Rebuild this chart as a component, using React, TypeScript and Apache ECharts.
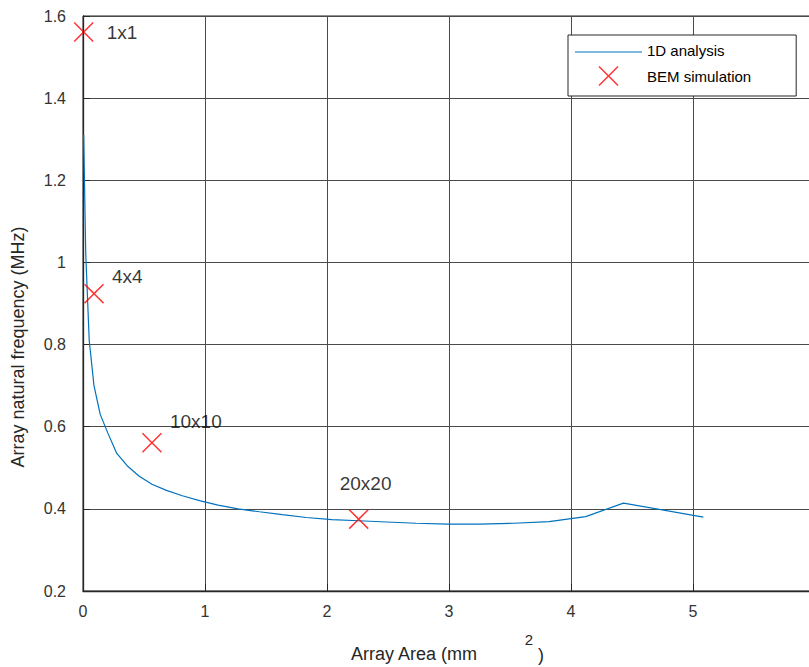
import React, { useEffect, useRef } from 'react';
import * as echarts from 'echarts';

// 1D analysis curve (area mm^2 -> frequency MHz)
const areaValues = [0.0056, 0.0226, 0.051, 0.090, 0.141, 0.203, 0.277, 0.362, 0.458, 0.565, 0.684, 0.814, 0.955, 1.107, 1.271, 1.446, 1.633, 1.831, 2.040, 2.26, 2.49, 2.73, 2.99, 3.25, 3.53, 3.82, 4.12, 4.43, 5.085];
const freqValues = [1.31, 1.02, 0.81, 0.70, 0.63, 0.585, 0.535, 0.505, 0.48, 0.46, 0.445, 0.432, 0.42, 0.409, 0.400, 0.393, 0.386, 0.379, 0.374, 0.371, 0.368, 0.365, 0.363, 0.363, 0.365, 0.369, 0.381, 0.414, 0.380];

// BEM simulation points
const bemArea = [0.0056, 0.0904, 0.565, 2.26];
const bemFreq = [1.561, 0.924, 0.561, 0.375];
const bemLabels = ['1x1', '4x4', '10x10', '20x20'];

const xTicks = [0, 1, 2, 3, 4, 5, 6];
const yTicks = [0.2, 0.4, 0.6, 0.8, 1, 1.2, 1.4, 1.6];

const labelOffsets = [[23, 0], [18, -17], [18, -21], [-19, -36]];

const FONT = '"Liberation Sans", Arial, Helvetica, sans-serif';
const crossPath = 'path://M0,5.3L5.3,0L50,44.7L94.7,0L100,5.3L55.3,50L100,94.7L94.7,100L50,55.3L5.3,100L0,94.7L44.7,50Z';
const lineIconPath = 'path://M0,0L0.01,0L0,0.01Z M67,20L66.99,20L67,19.99Z M0,11.4L67,11.4L67,12.6L0,12.6Z';

export default function App() {
  const ref = useRef<HTMLDivElement>(null);
  useEffect(() => {
    if (!ref.current) return;
    const chart = echarts.init(ref.current, undefined, { renderer: 'svg' });
    const option: any = {
      animation: false,
      backgroundColor: '#fff',
      grid: {
        left: 83, top: 16, width: 732, height: 575,
        outerBoundsMode: 'none', containLabel: false,
        show: true, borderColor: '#262626', borderWidth: 1, backgroundColor: 'transparent',
      },
      xAxis: {
        type: 'value', min: xTicks[0], max: xTicks[xTicks.length - 1], interval: 1,
        axisLine: { show: true, lineStyle: { color: '#262626', width: 1.3 } },
        axisTick: { show: true, inside: true, length: 7, lineStyle: { color: '#262626' } },
        axisLabel: { margin: 12, fontSize: 16, color: '#333', fontFamily: FONT },
        splitLine: { show: true, lineStyle: { color: '#4a4a4a', width: 1 } },
      },
      yAxis: {
        type: 'value', min: yTicks[0], max: yTicks[yTicks.length - 1], interval: 0.2,
        axisLine: { show: true, lineStyle: { color: '#262626', width: 1.3 } },
        axisTick: { show: true, inside: true, length: 7, lineStyle: { color: '#262626' } },
        axisLabel: {
          margin: 17, fontSize: 16, color: '#333', fontFamily: FONT,
          formatter: (v: number) => String(Math.round(v * 10) / 10),
        },
        splitLine: { show: true, lineStyle: { color: '#4a4a4a', width: 1 } },
      },
      legend: {
        orient: 'vertical', left: 568, top: 35,
        padding: [5, 45, 10, 7],
        itemWidth: 67, itemHeight: 20, itemGap: 6,
        backgroundColor: '#fff', borderColor: '#262626', borderWidth: 1, borderRadius: 0,
        textStyle: { fontSize: 15, color: '#000', fontFamily: FONT },
        data: [
          { name: '1D analysis', icon: lineIconPath, itemStyle: { color: '#0072BD', borderWidth: 0 } },
          { name: 'BEM simulation' },
        ],
      },
      series: [
        {
          name: '1D analysis', type: 'line', symbol: 'none', showSymbol: false,
          lineStyle: { color: '#0072BD', width: 1.2 }, itemStyle: { color: '#0072BD' },
          data: areaValues.map((a, i) => [a, freqValues[i]]),
          z: 3,
        },
        {
          name: 'BEM simulation', type: 'scatter', symbol: crossPath, symbolSize: 20,
          symbolKeepAspect: true,
          itemStyle: { color: '#FF0000' },
          data: bemArea.map((a, i) => ({
            value: [a, bemFreq[i]],
            label: {
              show: true, formatter: bemLabels[i], position: 'inside', align: 'left',
              verticalAlign: 'middle',
              offset: labelOffsets[i], fontSize: 19, color: '#000', fontFamily: FONT,
            },
          })),
          z: 4,
        },
      ],
      graphic: [
        { type: 'text', x: 351, y: 654, style: { text: 'Array Area (mm', align: 'left', verticalAlign: 'middle', fontSize: 18, fontFamily: FONT, fill: '#262626' } },
        { type: 'text', x: 529, y: 639, style: { text: '2', align: 'center', verticalAlign: 'middle', fontSize: 15, fontFamily: FONT, fill: '#262626' } },
        { type: 'text', x: 541, y: 655, style: { text: ')', align: 'center', verticalAlign: 'middle', fontSize: 18, fontFamily: FONT, fill: '#262626' } },
        { type: 'text', x: 18, y: 347, rotation: Math.PI / 2, style: { text: 'Array natural frequency (MHz)', align: 'center', verticalAlign: 'middle', fontSize: 18, fontFamily: FONT, fill: '#262626' } },
      ],
    };
    chart.setOption(option);
    return () => chart.dispose();
  }, []);
  return (
    <div ref={ref} style={{ position: 'absolute', left: 0, top: 0, width: 809, height: 667, overflow: 'hidden' }} />
  );
}
